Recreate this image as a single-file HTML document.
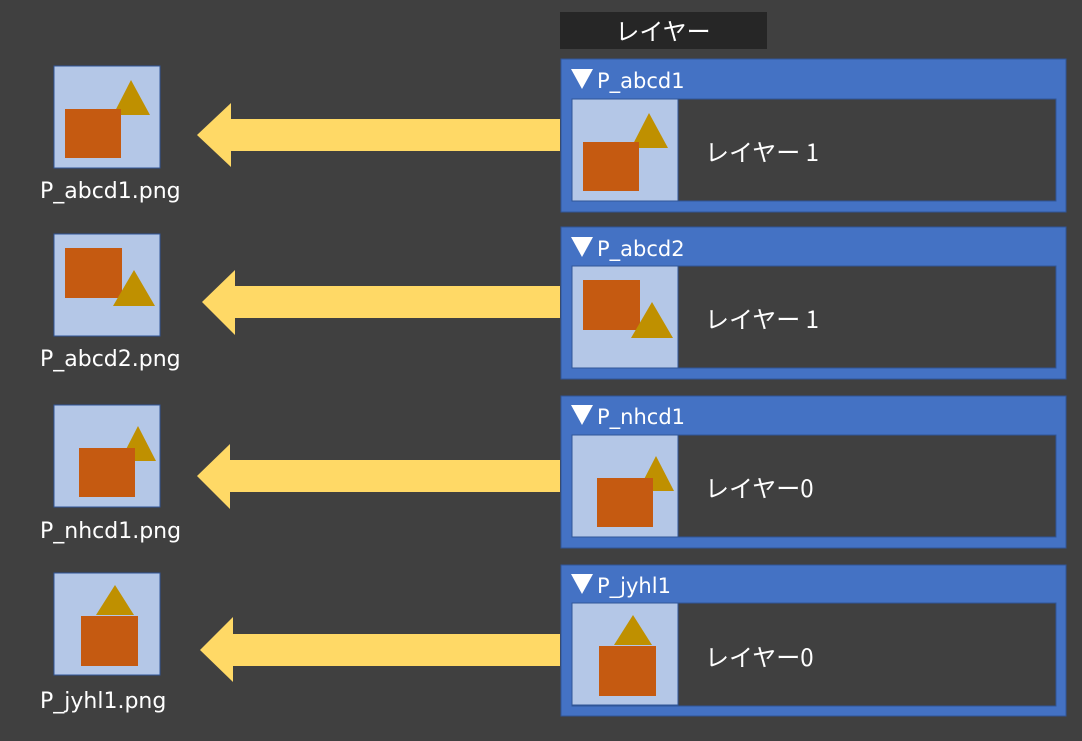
<!DOCTYPE html>
<html><head><meta charset="utf-8">
<style>
html,body{margin:0;padding:0;background:#404040;}
svg{display:block;font-family:"DejaVu Sans","Noto Sans CJK JP",sans-serif;}
.jp{font-family:"Noto Sans CJK JP","DejaVu Sans",sans-serif;}
</style></head><body>
<svg width="1082" height="741" viewBox="0 0 1082 741" xmlns="http://www.w3.org/2000/svg">
<rect width="1082" height="741" fill="#404040"/>
<defs>
 <g id="t1"><rect width="106" height="102" fill="#b4c7e7" stroke="#2f5597" stroke-width="1"/><polygon points="77,14 59,49 96,49" fill="#bf9000"/><rect x="11" y="43" width="56" height="49" fill="#c55a11"/></g>
 <g id="t2"><rect width="106" height="102" fill="#b4c7e7" stroke="#2f5597" stroke-width="1"/><rect x="11" y="14" width="57" height="50" fill="#c55a11"/><polygon points="80,36 59,72 101,72" fill="#bf9000"/></g>
 <g id="t3"><rect width="106" height="102" fill="#b4c7e7" stroke="#2f5597" stroke-width="1"/><polygon points="84,21 66,56 102,56" fill="#bf9000"/><rect x="25" y="43" width="56" height="49" fill="#c55a11"/></g>
 <g id="t4"><rect width="106" height="102" fill="#b4c7e7" stroke="#2f5597" stroke-width="1"/><polygon points="61,12 42,42 80,42" fill="#bf9000"/><rect x="27" y="43" width="57" height="50" fill="#c55a11"/></g>
 <polygon id="tri" points="0,0 22,0 11,20" fill="#fff"/>
</defs>

<rect x="560" y="12" width="207" height="37" fill="#262626"/>
<text class="jp" x="663" y="40" fill="#fff" font-size="24" text-anchor="middle">レイヤー</text>

<g>
 <rect x="561" y="59" width="505" height="153" fill="#4472c4" stroke="#2f5597"/>
 <rect x="572" y="99" width="484" height="102" fill="#404040" stroke="#2f5597"/>
 <use href="#t1" x="572" y="99"/>
 <use href="#tri" x="571" y="69"/>
 <text x="597" y="88" fill="#fff" font-size="21">P_abcd1</text>
 <text class="jp" x="705" y="161" fill="#fff" font-size="24">レイヤー 1</text>
</g>
<g>
 <rect x="561" y="227" width="505" height="152" fill="#4472c4" stroke="#2f5597"/>
 <rect x="572" y="266" width="484" height="102" fill="#404040" stroke="#2f5597"/>
 <use href="#t2" x="572" y="266"/>
 <use href="#tri" x="571" y="237"/>
 <text x="597" y="256" fill="#fff" font-size="21">P_abcd2</text>
 <text class="jp" x="705" y="328" fill="#fff" font-size="24">レイヤー 1</text>
</g>
<g>
 <rect x="561" y="396" width="505" height="152" fill="#4472c4" stroke="#2f5597"/>
 <rect x="572" y="435" width="484" height="102" fill="#404040" stroke="#2f5597"/>
 <use href="#t3" x="572" y="435"/>
 <use href="#tri" x="571" y="405"/>
 <text x="597" y="424" fill="#fff" font-size="21">P_nhcd1</text>
 <text class="jp" x="705" y="497" fill="#fff" font-size="24">レイヤー0</text>
</g>
<g>
 <rect x="561" y="565" width="505" height="151" fill="#4472c4" stroke="#2f5597"/>
 <rect x="572" y="603" width="484" height="103" fill="#404040" stroke="#2f5597"/>
 <use href="#t4" x="572" y="603"/>
 <use href="#tri" x="571" y="574"/>
 <text x="597" y="593" fill="#fff" font-size="21">P_jyhl1</text>
 <text class="jp" x="705" y="666" fill="#fff" font-size="24">レイヤー0</text>
</g>

<polygon points="197,135 231,103 231,119 560,119 560,151 231,151 231,167" fill="#ffd966"/>
<polygon points="202,302 235,270 235,286 560,286 560,318 235,318 235,335" fill="#ffd966"/>
<polygon points="197,476 230,444 230,460 560,460 560,492 230,492 230,509" fill="#ffd966"/>
<polygon points="200,650 233,617 233,634 560,634 560,666 233,666 233,682" fill="#ffd966"/>

<use href="#t1" x="54" y="66"/>
<use href="#t2" x="54" y="234"/>
<use href="#t3" x="54" y="405"/>
<use href="#t4" x="54" y="573"/>
<text x="40" y="198" fill="#fff" font-size="22">P_abcd1.png</text>
<text x="40" y="366" fill="#fff" font-size="22">P_abcd2.png</text>
<text x="40" y="538" fill="#fff" font-size="22">P_nhcd1.png</text>
<text x="40" y="708" fill="#fff" font-size="22">P_jyhl1.png</text>
</svg>
</body></html>
